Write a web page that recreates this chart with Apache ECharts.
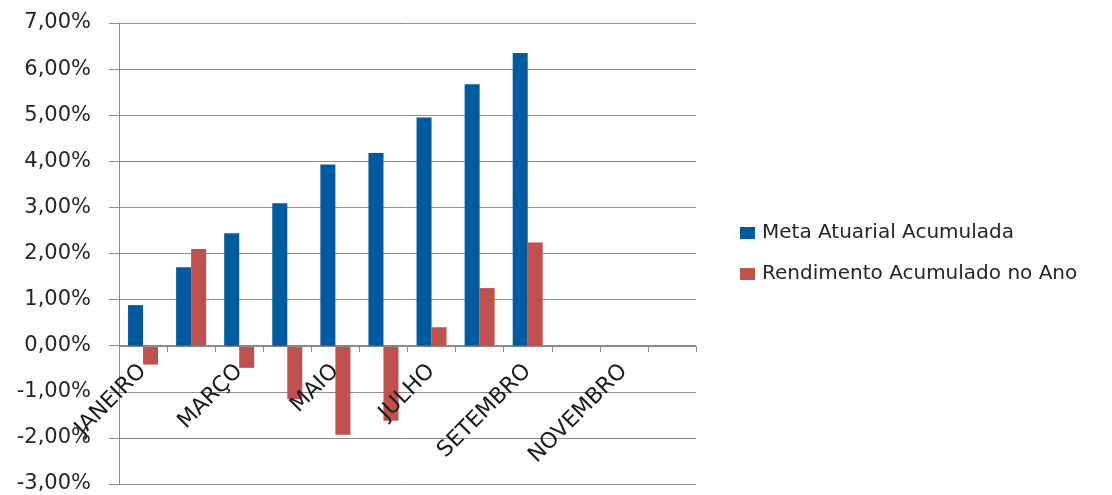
<!DOCTYPE html>
<html>
<head>
<meta charset="utf-8">
<script src="https://cdn.jsdelivr.net/npm/echarts@6/dist/echarts.min.js"></script>
<style>html,body{margin:0;padding:0;background:#fff;}#c{width:1112px;height:495px;}</style>
</head>
<body>
<div id="c"></div>
<script>
const categories = ['JANEIRO','FEVEREIRO','MARÇO','ABRIL','MAIO','JUNHO','JULHO','AGOSTO','SETEMBRO','OUTUBRO','NOVEMBRO','DEZEMBRO'];
const metaAtuarial = [0.88, 1.70, 2.44, 3.09, 3.93, 4.18, 4.95, 5.67, 6.35, null, null, null];
const rendimento = [-0.41, 2.10, -0.48, -1.16, -1.93, -1.63, 0.40, 1.25, 2.24, null, null, null];
const seriesNames = ['Meta Atuarial Acumulada', 'Rendimento Acumulado no Ano'];
const yMin = -3, yMax = 7, yStep = 1;

const FONT = 'DejaVu Sans';
const chart = echarts.init(document.getElementById('c'), null, {renderer: 'canvas'});
chart.setOption({
  animation: false,
  backgroundColor: '#ffffff',
  grid: {left: 119, right: 416, top: 23, bottom: 11, containLabel: false, outerBoundsMode: 'none'},
  legend: {
    orient: 'vertical',
    left: 740,
    top: 223,
    padding: 0,
    itemWidth: 15,
    itemHeight: 12,
    itemGap: 21,
    icon: 'rect',
    textStyle: {fontFamily: FONT, fontSize: 20, color: '#262626', padding: [0, 0, 0, 2]},
    data: seriesNames
  },
  xAxis: {
    type: 'category',
    data: categories,
    boundaryGap: true,
    position: 'bottom',
    offset: -138,
    z: 5,
    axisLine: {onZero: false, lineStyle: {color: '#8c8c8c', width: 1}},
    axisTick: {show: true, interval: 0, length: 6, lineStyle: {color: '#8c8c8c'}},
    axisLabel: {interval: 1, rotate: 45, margin: 22, fontFamily: FONT, fontSize: 22, color: '#1a1a1a'},
    splitLine: {show: false}
  },
  yAxis: {
    type: 'value',
    min: yMin, max: yMax, interval: yStep,
    axisLine: {show: true, lineStyle: {color: '#8c8c8c', width: 1}},
    axisTick: {show: true, length: 10, lineStyle: {color: '#8c8c8c'}},
    axisLabel: {margin: 28, fontFamily: FONT, fontSize: 21, color: '#262626',
      formatter: v => v.toFixed(2).replace('.', ',') + '%'},
    splitLine: {show: true, lineStyle: {color: '#8c8c8c', width: 1}}
  },
  series: [
    {name: seriesNames[0], type: 'bar', data: metaAtuarial, barWidth: 15, barGap: '0%',
     itemStyle: {color: '#005AA0'}},
    {name: seriesNames[1], type: 'bar', data: rendimento, barWidth: 15, barGap: '0%',
     itemStyle: {color: '#C0504D'}}
  ]
});
</script>
</body>
</html>
